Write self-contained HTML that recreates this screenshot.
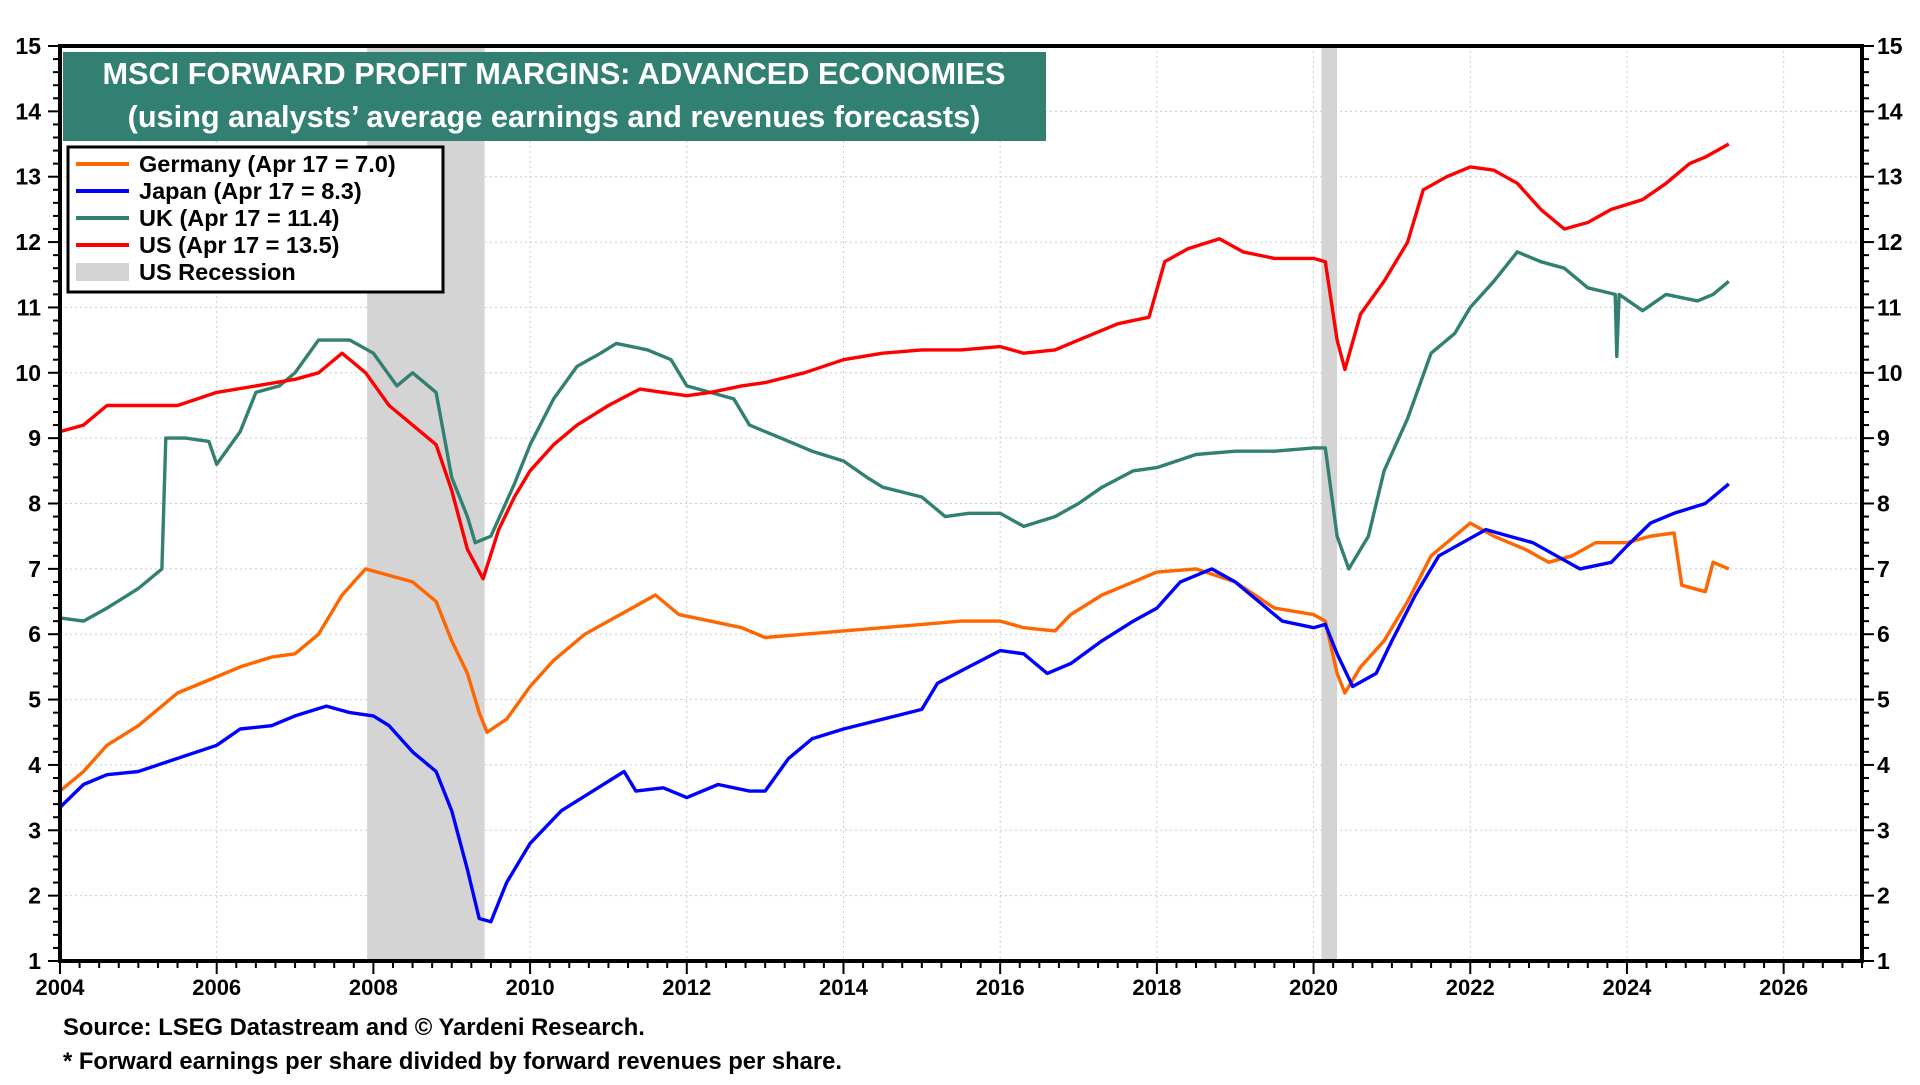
<!DOCTYPE html>
<html><head><meta charset="utf-8"><style>
html,body{margin:0;padding:0;background:#fff}
svg text{font-family:"Liberation Sans",Arial,sans-serif;font-weight:bold}
</style></head><body>
<svg id="chart" width="1920" height="1080" viewBox="0 0 1920 1080" xmlns="http://www.w3.org/2000/svg">
<g id="grid"></g>
<g id="rec"></g>
<g id="series"></g>
<g id="axes"></g>
<g>
<rect x="63" y="52" width="983" height="89" fill="#318072"/>
<text x="554" y="84" font-size="30.7" fill="#fff" text-anchor="middle">MSCI FORWARD PROFIT MARGINS: ADVANCED ECONOMIES</text>
<text x="554" y="127" font-size="30.7" fill="#fff" text-anchor="middle">(using analysts’ average earnings and revenues forecasts)</text>
</g>
<g>
<rect x="68" y="147" width="375" height="145" fill="#fff" stroke="#000" stroke-width="3"/>
<line x1="76" y1="164" x2="129" y2="164" stroke="#ff6600" stroke-width="4"/><text x="139" y="172" font-size="23.5">Germany (Apr 17 = 7.0)</text>
<line x1="76" y1="191" x2="129" y2="191" stroke="#0000ff" stroke-width="4"/><text x="139" y="199" font-size="23.5">Japan (Apr 17 = 8.3)</text>
<line x1="76" y1="218" x2="129" y2="218" stroke="#318072" stroke-width="4"/><text x="139" y="226" font-size="23.5">UK (Apr 17 = 11.4)</text>
<line x1="76" y1="245" x2="129" y2="245" stroke="#ff0000" stroke-width="4"/><text x="139" y="253" font-size="23.5">US (Apr 17 = 13.5)</text>
<rect x="76" y="263" width="53" height="18" fill="#d4d4d4"/><text x="139" y="280" font-size="23.5">US Recession</text>
</g>
<text x="63" y="1035" font-size="23.8">Source: LSEG Datastream and © Yardeni Research.</text>
<text x="63" y="1069" font-size="23.8">* Forward earnings per share divided by forward revenues per share.</text>
</svg>
<script>
const yearTicks=[2004,2006,2008,2010,2012,2014,2016,2018,2020,2022,2024,2026];
const valueTicks=[1,2,3,4,5,6,7,8,9,10,11,12,13,14,15];
const recessions=[[2007.92,2009.42],[2020.1,2020.3]];
const usX=[2004.0,2004.3,2004.6,2005.0,2005.5,2006.0,2006.5,2007.0,2007.3,2007.6,2007.9,2008.2,2008.5,2008.8,2009.0,2009.2,2009.4,2009.6,2009.8,2010.0,2010.3,2010.6,2011.0,2011.4,2011.7,2012.0,2012.3,2012.7,2013.0,2013.5,2014.0,2014.5,2015.0,2015.5,2016.0,2016.3,2016.7,2017.0,2017.5,2017.9,2018.1,2018.4,2018.8,2019.1,2019.5,2020.0,2020.15,2020.3,2020.4,2020.6,2020.9,2021.2,2021.4,2021.7,2022.0,2022.3,2022.6,2022.9,2023.2,2023.5,2023.8,2024.2,2024.5,2024.8,2025.0,2025.3];
const usY=[9.1,9.2,9.5,9.5,9.5,9.7,9.8,9.9,10.0,10.3,10.0,9.5,9.2,8.9,8.2,7.3,6.85,7.6,8.1,8.5,8.9,9.2,9.5,9.75,9.7,9.65,9.7,9.8,9.85,10.0,10.2,10.3,10.35,10.35,10.4,10.3,10.35,10.5,10.75,10.85,11.7,11.9,12.05,11.85,11.75,11.75,11.7,10.5,10.05,10.9,11.4,12.0,12.8,13.0,13.15,13.1,12.9,12.5,12.2,12.3,12.5,12.65,12.9,13.2,13.3,13.5];
const ukX=[2004.0,2004.3,2004.6,2005.0,2005.3,2005.35,2005.6,2005.9,2006.0,2006.3,2006.5,2006.8,2007.0,2007.3,2007.7,2008.0,2008.3,2008.5,2008.8,2009.0,2009.2,2009.3,2009.5,2009.8,2010.0,2010.3,2010.6,2010.9,2011.1,2011.5,2011.8,2012.0,2012.3,2012.6,2012.8,2013.2,2013.6,2014.0,2014.3,2014.5,2015.0,2015.3,2015.6,2016.0,2016.3,2016.7,2017.0,2017.3,2017.7,2018.0,2018.5,2019.0,2019.5,2020.0,2020.15,2020.3,2020.45,2020.7,2020.9,2021.2,2021.5,2021.8,2022.0,2022.3,2022.6,2022.9,2023.2,2023.5,2023.85,2023.87,2023.9,2024.2,2024.5,2024.9,2025.1,2025.3];
const ukY=[6.25,6.2,6.4,6.7,7.0,9.0,9.0,8.95,8.6,9.1,9.7,9.8,10.0,10.5,10.5,10.3,9.8,10.0,9.7,8.4,7.8,7.4,7.5,8.3,8.9,9.6,10.1,10.3,10.45,10.35,10.2,9.8,9.7,9.6,9.2,9.0,8.8,8.65,8.4,8.25,8.1,7.8,7.85,7.85,7.65,7.8,8.0,8.25,8.5,8.55,8.75,8.8,8.8,8.85,8.85,7.5,7.0,7.5,8.5,9.3,10.3,10.6,11.0,11.4,11.85,11.7,11.6,11.3,11.2,10.25,11.2,10.95,11.2,11.1,11.2,11.4];
const deX=[2004.0,2004.3,2004.6,2005.0,2005.3,2005.5,2005.9,2006.3,2006.7,2007.0,2007.3,2007.6,2007.9,2008.2,2008.5,2008.8,2009.0,2009.2,2009.35,2009.45,2009.7,2010.0,2010.3,2010.7,2011.0,2011.3,2011.6,2011.9,2012.3,2012.7,2013.0,2013.5,2014.0,2014.5,2015.0,2015.5,2016.0,2016.3,2016.7,2016.9,2017.3,2017.7,2018.0,2018.5,2019.0,2019.5,2020.0,2020.15,2020.3,2020.4,2020.6,2020.9,2021.2,2021.5,2021.8,2022.0,2022.3,2022.7,2023.0,2023.3,2023.6,2024.0,2024.3,2024.6,2024.7,2025.0,2025.1,2025.3];
const deY=[3.6,3.9,4.3,4.6,4.9,5.1,5.3,5.5,5.65,5.7,6.0,6.6,7.0,6.9,6.8,6.5,5.9,5.4,4.8,4.5,4.7,5.2,5.6,6.0,6.2,6.4,6.6,6.3,6.2,6.1,5.95,6.0,6.05,6.1,6.15,6.2,6.2,6.1,6.05,6.3,6.6,6.8,6.95,7.0,6.8,6.4,6.3,6.2,5.4,5.1,5.5,5.9,6.5,7.2,7.5,7.7,7.5,7.3,7.1,7.2,7.4,7.4,7.5,7.55,6.75,6.65,7.1,7.0];
const jpX=[2004.0,2004.3,2004.6,2005.0,2005.5,2006.0,2006.3,2006.7,2007.0,2007.4,2007.7,2008.0,2008.2,2008.5,2008.8,2009.0,2009.2,2009.35,2009.5,2009.7,2010.0,2010.4,2010.8,2011.2,2011.35,2011.7,2012.0,2012.4,2012.8,2013.0,2013.3,2013.6,2014.0,2014.5,2015.0,2015.2,2015.6,2016.0,2016.3,2016.6,2016.9,2017.3,2017.7,2018.0,2018.3,2018.7,2019.0,2019.3,2019.6,2020.0,2020.15,2020.3,2020.5,2020.8,2021.0,2021.3,2021.6,2021.9,2022.2,2022.5,2022.8,2023.1,2023.4,2023.8,2024.0,2024.3,2024.6,2025.0,2025.3];
const jpY=[3.35,3.7,3.85,3.9,4.1,4.3,4.55,4.6,4.75,4.9,4.8,4.75,4.6,4.2,3.9,3.3,2.4,1.65,1.6,2.2,2.8,3.3,3.6,3.9,3.6,3.65,3.5,3.7,3.6,3.6,4.1,4.4,4.55,4.7,4.85,5.25,5.5,5.75,5.7,5.4,5.55,5.9,6.2,6.4,6.8,7.0,6.8,6.5,6.2,6.1,6.15,5.7,5.2,5.4,5.9,6.6,7.2,7.4,7.6,7.5,7.4,7.2,7.0,7.1,7.35,7.7,7.85,8.0,8.3];

const NS='http://www.w3.org/2000/svg';
const X0=60,X1=1862,Y0=961,Y1=46;
function xs(v){return X0+(v-2004)/(2027-2004)*(X1-X0);}
function ys(v){return Y0-(v-1)/(15-1)*(Y0-Y1);}
function mk(tag,attrs,parent){const e=document.createElementNS(NS,tag);for(const k in attrs)e.setAttribute(k,attrs[k]);parent.appendChild(e);return e;}
const grid=document.getElementById('grid'),rec=document.getElementById('rec'),ser=document.getElementById('series'),axes=document.getElementById('axes');
valueTicks.forEach(v=>{const l=mk('line',{x1:X0,x2:X1,y1:ys(v),y2:ys(v),stroke:'#ccc','stroke-width':1,'stroke-dasharray':'2,3'},grid);

});
yearTicks.forEach(v=>{const l=mk('line',{x1:xs(v),x2:xs(v),y1:Y1,y2:Y0,stroke:'#ccc','stroke-width':1,'stroke-dasharray':'2,3'},grid);

});
recessions.forEach(r=>{const e=mk('rect',{x:xs(r[0]),y:Y1,width:xs(r[1])-xs(r[0]),height:Y0-Y1,fill:'#d4d4d4'},rec);

});
function line(xa,ya,color,name){const d=xa.map((x,i)=>(i?'L':'M')+xs(x).toFixed(1)+','+ys(ya[i]).toFixed(1)).join('');
const p=mk('path',{d:d,fill:'none',stroke:color,'stroke-width':3.4,'stroke-linejoin':'round'},ser);

}
line(ukX,ukY,'#318072','uk-line');
line(deX,deY,'#ff6600','germany-line');
line(jpX,jpY,'#0000ff','japan-line');
line(usX,usY,'#ff0000','us-line');
mk('rect',{x:X0,y:Y1,width:X1-X0,height:Y0-Y1,fill:'none',stroke:'#000','stroke-width':4},axes);
for(let v=1;v<=15.001;v+=0.2){const big=Math.abs(v-Math.round(v))<0.01;const len=big?12:7;
mk('line',{x1:X0-len,x2:X0,y1:ys(v),y2:ys(v),stroke:'#000','stroke-width':2},axes);
mk('line',{x1:X1,x2:X1+len,y1:ys(v),y2:ys(v),stroke:'#000','stroke-width':2},axes);}
valueTicks.forEach(v=>{const t=mk('text',{x:41,y:ys(v)+8,'font-size':23,'text-anchor':'end'},axes);t.textContent=v;


const t2=mk('text',{x:1877,y:ys(v)+8,'font-size':23},axes);t2.textContent=v;

});
for(let v=2004;v<=2027.001;v+=0.25){const big=Math.abs((v-2004)%2)<0.01;
mk('line',{x1:xs(v),x2:xs(v),y1:Y0,y2:Y0+(big?13:7),stroke:'#000','stroke-width':2},axes);}
yearTicks.forEach(v=>{const t=mk('text',{x:xs(v),y:Y0+34,'font-size':22,'text-anchor':'middle'},axes);t.textContent=v;

});
</script>
</body></html>
